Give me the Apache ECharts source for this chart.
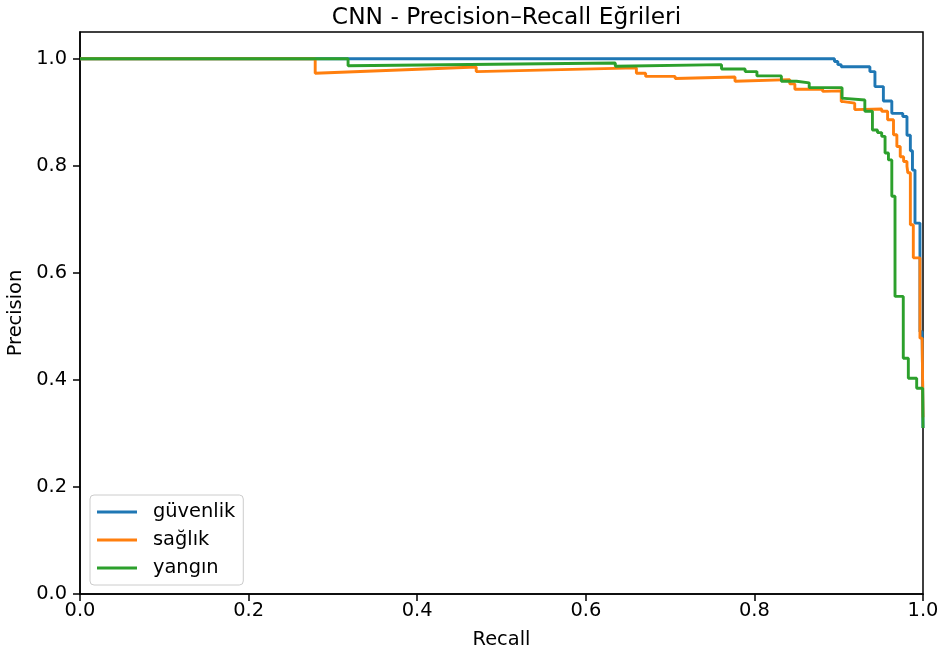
<!DOCTYPE html>
<html><head><meta charset="utf-8">
<script src="https://cdn.jsdelivr.net/npm/echarts@6/dist/echarts.min.js"></script>
<style>html,body{margin:0;padding:0;background:#fff}#c{width:945px;height:659px}</style>
</head><body><div id="c"></div>
<script>
const chartTitle = 'CNN - Precision–Recall Eğrileri';
const seriesNames = ['güvenlik', 'sağlık', 'yangın'];
const seriesColors = ['#1f77b4', '#ff7f0e', '#2ca02c'];
const tickValues = [0, 0.2, 0.4, 0.6, 0.8, 1.0];

// [recall, precision]
const guvenlik = [
  [0, 1.0], [0.895, 1.0], [0.895, 0.995], [0.899, 0.995], [0.899, 0.989], [0.903, 0.989],
  [0.903, 0.985], [0.937, 0.985], [0.937, 0.976], [0.943, 0.976], [0.943, 0.948],
  [0.953, 0.948], [0.953, 0.921], [0.963, 0.921], [0.963, 0.898], [0.976, 0.898],
  [0.976, 0.892], [0.981, 0.892], [0.981, 0.857], [0.985, 0.857], [0.985, 0.828],
  [0.9875, 0.828], [0.9875, 0.792], [0.9905, 0.792], [0.9905, 0.693], [0.9964, 0.693],
  [0.9964, 0.49], [0.999, 0.49], [1.0, 0.31]
];
const saglik = [
  [0, 1.0], [0.279, 1.0], [0.279, 0.973], [0.470, 0.9845], [0.470, 0.976], [0.660, 0.983],
  [0.660, 0.973], [0.671, 0.973], [0.671, 0.967], [0.706, 0.967], [0.706, 0.963],
  [0.777, 0.966], [0.777, 0.958], [0.842, 0.961], [0.842, 0.953], [0.848, 0.953],
  [0.848, 0.943], [0.881, 0.943], [0.881, 0.939], [0.903, 0.940], [0.903, 0.920],
  [0.906, 0.920], [0.906, 0.917], [0.919, 0.917], [0.919, 0.905], [0.951, 0.906],
  [0.951, 0.902], [0.958, 0.902], [0.958, 0.886], [0.965, 0.886], [0.965, 0.858],
  [0.969, 0.858], [0.969, 0.836], [0.973, 0.836], [0.973, 0.817], [0.977, 0.817],
  [0.977, 0.808], [0.981, 0.808], [0.981, 0.799], [0.982, 0.799], [0.982, 0.787],
  [0.985, 0.787], [0.985, 0.690], [0.9885, 0.690], [0.9885, 0.628], [0.9964, 0.628],
  [0.9964, 0.478], [0.999, 0.478], [1.0, 0.33]
];
const yangin = [
  [0, 1.0], [0.318, 1.0], [0.318, 0.987], [0.635, 0.992], [0.635, 0.986], [0.761, 0.989],
  [0.761, 0.981], [0.789, 0.981], [0.789, 0.976], [0.803, 0.976], [0.803, 0.968],
  [0.832, 0.968], [0.832, 0.958], [0.850, 0.958], [0.850, 0.955], [0.865, 0.955],
  [0.865, 0.946], [0.904, 0.946], [0.904, 0.926], [0.907, 0.926], [0.907, 0.923],
  [0.931, 0.923], [0.931, 0.902], [0.940, 0.902], [0.940, 0.867], [0.946, 0.867],
  [0.946, 0.862], [0.951, 0.862], [0.951, 0.855], [0.955, 0.855], [0.955, 0.824],
  [0.959, 0.824], [0.959, 0.811], [0.963, 0.811], [0.963, 0.743], [0.9668, 0.743],
  [0.9668, 0.556], [0.9766, 0.556], [0.9766, 0.4405], [0.9826, 0.4405], [0.9826, 0.403],
  [0.9925, 0.403], [0.9925, 0.3845], [0.9996, 0.3845], [1.0, 0.31]
];
const seriesData = [guvenlik, saglik, yangin];

const FONT = 'DejaVu Sans';
const FS = 19.4;
const chart = echarts.init(document.getElementById('c'), null, {renderer: 'canvas'});
const axisCommon = {
  type: 'value', min: 0, interval: 0.2,
  nameLocation: 'middle',
  nameTextStyle: {fontFamily: FONT, fontSize: FS, color: '#000'},
  axisLine: {show: true, onZero: false, lineStyle: {color: '#000', width: 1.5}},
  axisTick: {show: true, inside: false, length: 7, customValues: tickValues, lineStyle: {color: '#000', width: 1.5}},
  axisLabel: {fontFamily: FONT, fontSize: FS, color: '#000', customValues: tickValues,
    formatter: v => v.toFixed(1)},
  splitLine: {show: false}
};
chart.setOption({
  animation: false,
  backgroundColor: '#fff',
  title: {text: chartTitle, left: 501.5, top: 1, textAlign: 'center',
    textStyle: {fontFamily: FONT, fontSize: 23.3, fontWeight: 'normal', color: '#000'}},
  grid: {left: 80, right: 22, top: 32, bottom: 65, show: true, borderColor: '#000', borderWidth: 1.5,
    containLabel: false, outerBoundsMode: 'none'},
  xAxis: Object.assign({}, axisCommon, {max: 1.0, name: 'Recall', nameGap: 36,
    axisLabel: Object.assign({}, axisCommon.axisLabel, {margin: 7})}),
  yAxis: Object.assign({}, axisCommon, {max: 1.05, name: 'Precision', nameGap: 51,
    axisLabel: Object.assign({}, axisCommon.axisLabel, {margin: 13})}),
  legend: {
    orient: 'vertical', left: 90, top: 495,
    data: seriesNames,
    icon: 'rect',
    itemWidth: 40, itemHeight: 2.9, itemGap: 8,
    padding: [7, 8, 7, 7],
    backgroundColor: 'rgba(255,255,255,0.8)',
    borderColor: '#cccccc', borderWidth: 1, borderRadius: 4,
    textStyle: {fontFamily: FONT, fontSize: FS, lineHeight: 20, color: '#000', padding: [0, 0, 0, 11]}
  },
  series: seriesData.map((d, i) => ({
    name: seriesNames[i], type: 'line', data: d,
    symbol: 'none', showSymbol: false, smooth: false,
    color: seriesColors[i],
    itemStyle: {color: seriesColors[i]},
    lineStyle: {color: seriesColors[i], width: 2.9},
    clip: true
  }))
});
</script></body></html>
